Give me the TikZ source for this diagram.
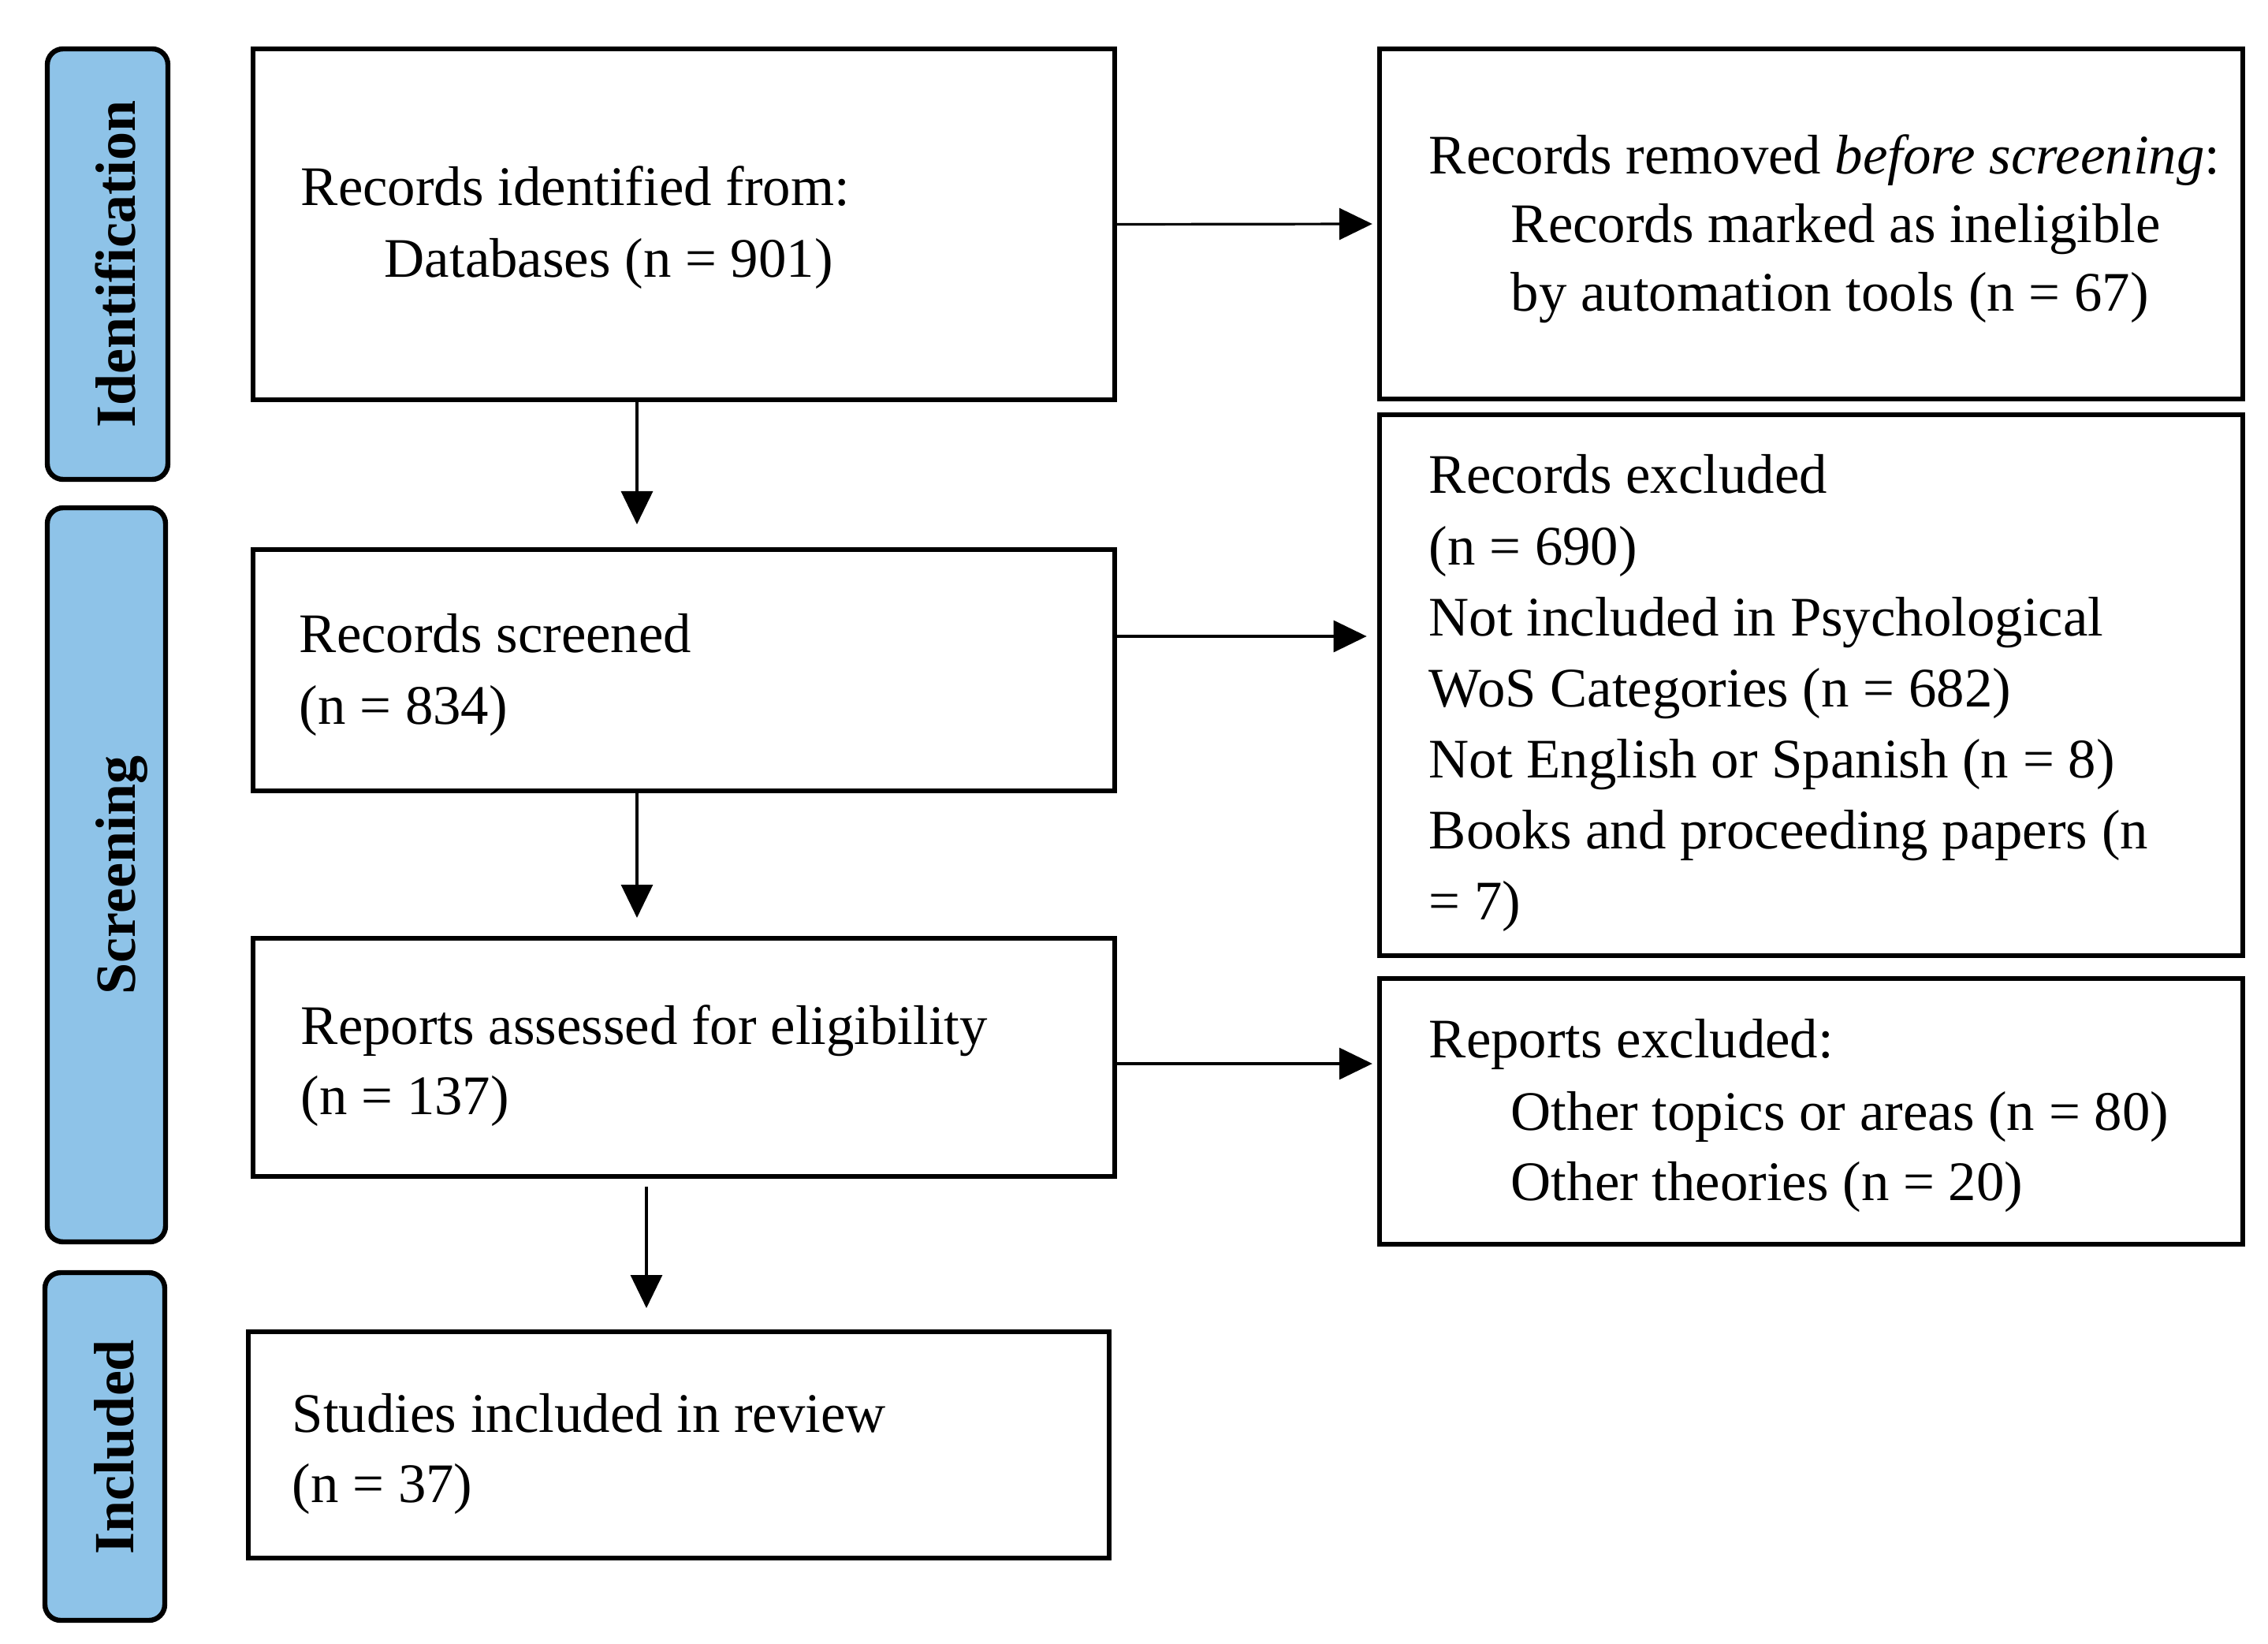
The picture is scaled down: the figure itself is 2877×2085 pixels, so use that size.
\documentclass[tikz,border=0pt]{standalone}
\usepackage{fontspec}
\setmainfont{Liberation Serif}
\usetikzlibrary{fit,arrows.meta}
\definecolor{bandblue}{RGB}{142,195,232}
\begin{document}
\begin{tikzpicture}[x=0.25pt,y=-0.25pt,
  box/.style={draw, line width=1.6pt, inner sep=0pt},
  band/.style={draw, line width=1.6pt, fill=bandblue, rounded corners=5pt, inner sep=0pt},
  arr/.style={line width=0.8pt, -{Triangle[length=10.5pt,width=10pt]}},
  txt/.style={anchor=base west, inner sep=0pt, font=\fontsize{17.7}{20}\selectfont},
  lbl/.style={rotate=90, anchor=base, inner sep=0pt, font=\bfseries\fontsize{18}{20}\selectfont}]
\useasboundingbox (0,0) rectangle (2877,2085);

% phase bands
\node[band, fit={(60,62) (213,608)}] (bid) {};
\node[band, fit={(60,644) (210,1575)}] (bsc) {};
\node[band, fit={(57,1614) (209,2055)}] (bin) {};
\node[lbl] (lid) at (171,335) {Identification};
\node[lbl] (lsc) at (171,1110) {Screening};
\node[lbl] (lin) at (169,1835) {Included};

% main boxes
\node[box, fit={(321,62) (1414,507)}] (b1) {};
\node[box, fit={(321,697) (1414,1003)}] (b2) {};
\node[box, fit={(321,1190) (1414,1492)}] (b3) {};
\node[box, fit={(315,1689) (1407,1976)}] (b4) {};
\node[box, fit={(1750,62) (2845,506)}] (r1) {};
\node[box, fit={(1750,526) (2845,1212)}] (r2) {};
\node[box, fit={(1750,1241) (2845,1578)}] (r3) {};

% texts
\node[txt] (t1a) at (381,261) {Records identified from:};
\node[txt] (t1b) at (487,352) {Databases (n = 901)};
\node[txt] (t2a) at (379,827) {Records screened};
\node[txt] (t2b) at (379,918) {(n = 834)};
\node[txt] (t3a) at (381,1324) {Reports assessed for eligibility};
\node[txt] (t3b) at (381,1413) {(n = 137)};
\node[txt] (t4a) at (370,1816) {Studies included in review};
\node[txt] (t4b) at (370,1905) {(n = 37)};

\node[txt] (u1a) at (1812,221) {Records removed \textit{before screening}:};
\node[txt] (u1b) at (1916,308) {Records marked as ineligible};
\node[txt] (u1c) at (1916,395) {by automation tools (n = 67)};

\node[txt] (u2a) at (1812,626) {Records excluded};
\node[txt] (u2b) at (1812,716) {(n = 690)};
\node[txt] (u2c) at (1812,806) {Not included in Psychological};
\node[txt] (u2d) at (1812,896) {WoS Categories (n = 682)};
\node[txt] (u2e) at (1812,986) {Not English or Spanish (n = 8)};
\node[txt] (u2f) at (1812,1076) {Books and proceeding papers (n};
\node[txt] (u2g) at (1812,1166) {= 7)};

\node[txt] (u3a) at (1812,1341) {Reports excluded:};
\node[txt] (u3b) at (1916,1433) {Other topics or areas (n = 80)};
\node[txt] (u3c) at (1916,1522) {Other theories (n = 20)};

% connector guides
\coordinate (cx1) at (808,0);
\coordinate (cx3) at (820,0);
\coordinate (cy2) at (0,807);
\coordinate (cy3) at (0,1349);

% arrows
\draw[arr, shorten >=7.2pt] (b1.south -| cx1) -- (b2.north -| cx1);
\draw[arr, shorten >=5.7pt] (b2.south -| cx1) -- (b3.north -| cx1);
\draw[arr, shorten <=2.5pt, shorten >=6.7pt] (b3.south -| cx3) -- (b4.north -| cx3);
\draw[arr, shorten >=1.5pt] (b1.east) -- (r1.west);
\draw[arr, shorten >=3.3pt] (b2.east |- cy2) -- (r2.west |- cy2);
\draw[arr, shorten >=1.5pt] (b3.east |- cy3) -- (r3.west |- cy3);
\end{tikzpicture}
\end{document}
